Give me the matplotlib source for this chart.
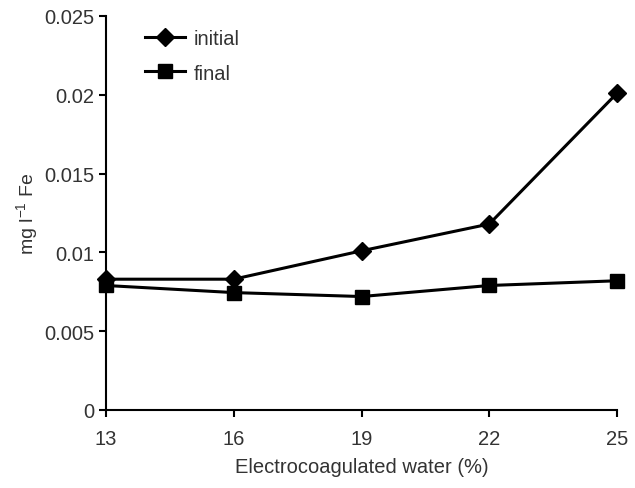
import matplotlib
matplotlib.use("Agg")
import matplotlib.pyplot as plt

plt.rcParams['font.family'] = ['Liberation Sans Narrow', 'Liberation Sans', 'DejaVu Sans']
plt.rcParams['mathtext.default'] = 'regular'

water = [13, 16, 19, 22, 25]
initial = [0.0083, 0.0083, 0.0101, 0.0118, 0.0201]
final = [0.0079, 0.00745, 0.0072, 0.0079, 0.0082]
yticks = [0, 0.005, 0.01, 0.015, 0.02, 0.025]
ytick_labels = ["0", "0.005", "0.01", "0.015", "0.02", "0.025"]

txt = "#333333"

fig = plt.figure(figsize=(6.35, 4.89), dpi=100)
ax = fig.add_axes([106/635, 78/489, 511/635, 394/489])

ax.plot(water, initial, color="black", lw=2.2, marker="D", ms=9, label="initial", clip_on=False)
ax.plot(water, final, color="black", lw=2.2, marker="s", ms=10, label="final", clip_on=False)

ax.set_xlim(13, 25)
ax.set_ylim(0, 0.025)
ax.set_xticks(water)
ax.set_xticklabels([str(w) for w in water])
ax.set_yticks(yticks)
ax.set_yticklabels(ytick_labels)

for s in ["top", "right"]:
    ax.spines[s].set_visible(False)
for s in ["left", "bottom"]:
    ax.spines[s].set_linewidth(1.5)
ax.tick_params(direction="out", length=5, width=1.5, labelsize=14.5, labelcolor=txt)
ax.tick_params(axis="x", pad=9)

ax.set_xlabel("Electrocoagulated water (%)", fontsize=14.5, color=txt, labelpad=6)
ax.set_ylabel("mg l$^{-1}$ Fe", fontsize=14, color=txt, labelpad=3)

leg = ax.legend(loc="upper left", bbox_to_anchor=(0.041, 1.012), frameon=False,
                fontsize=14.5, handlelength=2.0, labelspacing=0.75, handletextpad=0.4)
for t in leg.get_texts():
    t.set_color(txt)

fig.savefig("out.png", dpi=100)
